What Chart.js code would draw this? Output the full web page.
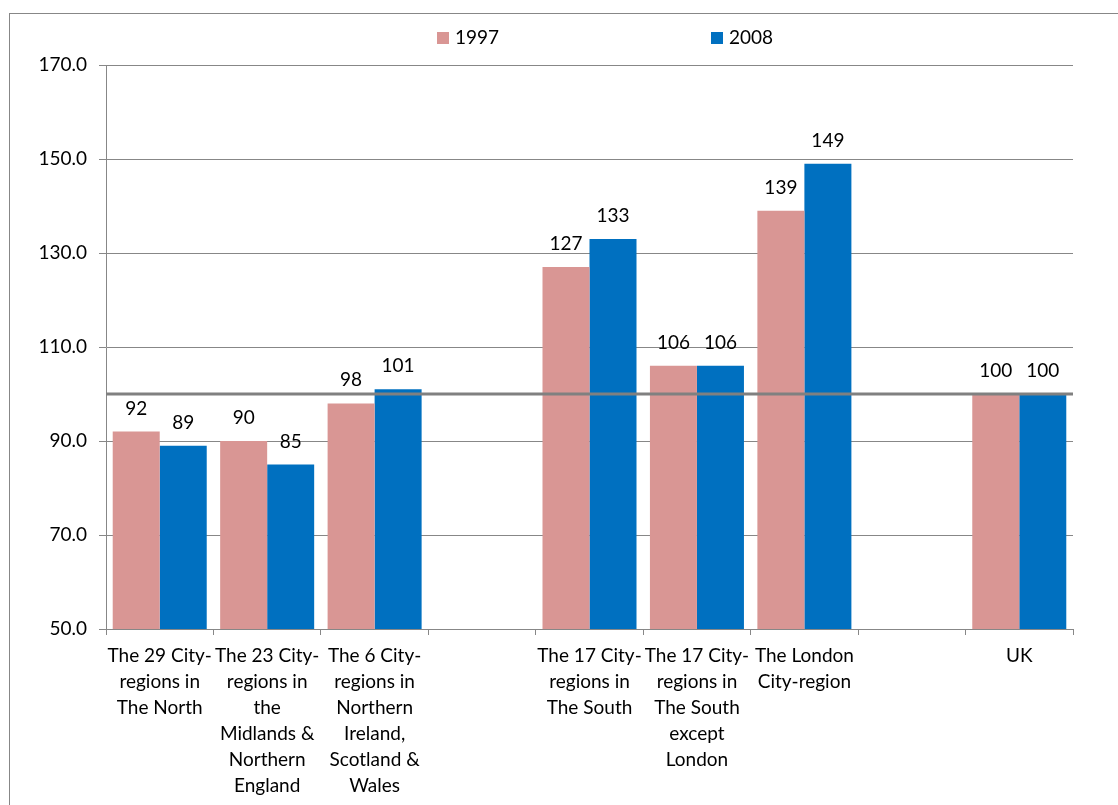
<!DOCTYPE html>
<html>
<head>
<meta charset="utf-8">
<title>City-region GVA per head, UK = 100</title>
<script src="https://cdn.jsdelivr.net/npm/chart.js@4.4.1/dist/chart.umd.min.js"></script>
<style>
  html, body { margin: 0; padding: 0; background: #fff; overflow: hidden; }
  #wrap { width: 1118px; height: 805px; }
</style>
</head>
<body>
<div id="wrap"><canvas id="gvaChart" width="1118" height="805"></canvas></div>
<script>
// categories (multi-line labels), empty slots keep the gaps between groups
const categories = [
  ['The 29 City-', 'regions in', 'The North'],
  ['The 23 City-', 'regions in', 'the', 'Midlands &', 'Northern', 'England'],
  ['The 6 City-', 'regions in', 'Northern', 'Ireland,', 'Scotland &', 'Wales'],
  '',
  ['The 17 City-', 'regions in', 'The South'],
  ['The 17 City-', 'regions in', 'The South', 'except', 'London'],
  ['The London', 'City-region'],
  '',
  'UK'
];
const values1997 = [92, 90, 98, null, 127, 106, 139, null, 100];
const values2008 = [89, 85, 101, null, 133, 106, 149, null, 100];
const yTicks = [50, 70, 90, 110, 130, 150, 170];
const ukLevel = 100;

const PINK = '#d99694';
const BLUE = '#0070c0';
const GRID = '#878787';
const FONT = 'Lato';
const FONT_SIZE = 19;

Chart.defaults.font.family = FONT;
Chart.defaults.font.size = FONT_SIZE;
Chart.defaults.color = '#000';

// outer frame of the chart object
const frame = {
  id: 'frame',
  beforeDraw(chart) {
    const ctx = chart.ctx;
    ctx.save();
    ctx.fillStyle = '#fff';
    ctx.fillRect(0, 0, chart.width, chart.height);
    ctx.strokeStyle = GRID;
    ctx.lineWidth = 1;
    ctx.strokeRect(9.5, 13.5, chart.width + 50, chart.height + 50);
    ctx.restore();
  }
};

// horizontal UK = 100 line across the plot
const ukLine = {
  id: 'ukLine',
  afterDatasetsDraw(chart) {
    const { ctx, chartArea } = chart;
    const y = chart.scales.y.getPixelForValue(ukLevel);
    ctx.save();
    ctx.strokeStyle = '#808080';
    ctx.lineWidth = 3;
    ctx.beginPath();
    ctx.moveTo(chartArea.left, y);
    ctx.lineTo(chartArea.right, y);
    ctx.stroke();
    ctx.restore();
  }
};

// value labels above each bar
const barLabels = {
  id: 'barLabels',
  afterDatasetsDraw(chart) {
    const ctx = chart.ctx;
    ctx.save();
    ctx.font = FONT_SIZE + 'px ' + FONT;
    ctx.fillStyle = '#000';
    ctx.textAlign = 'center';
    ctx.textBaseline = 'alphabetic';
    chart.data.datasets.forEach((ds, i) => {
      chart.getDatasetMeta(i).data.forEach((bar, j) => {
        const v = ds.data[j];
        if (v == null) return;
        ctx.fillText(String(Math.round(v)), bar.x, bar.y - 17);
      });
    });
    ctx.restore();
  }
};

// widely spaced legend along the top
const spreadLegend = {
  id: 'spreadLegend',
  afterDraw(chart, args, opts) {
    const ctx = chart.ctx;
    ctx.save();
    ctx.font = FONT_SIZE + 'px ' + FONT;
    ctx.textBaseline = 'middle';
    ctx.textAlign = 'left';
    chart.data.datasets.forEach((ds, i) => {
      const x = opts.left + i * opts.step;
      ctx.fillStyle = ds.backgroundColor;
      ctx.fillRect(x, opts.top, 12, 12);
      ctx.fillStyle = '#000';
      ctx.fillText(ds.label, x + 18, opts.top + 6);
    });
    ctx.restore();
  }
};

new Chart(document.getElementById('gvaChart'), {
  type: 'bar',
  data: {
    labels: categories,
    datasets: [
      { label: '1997', data: values1997, backgroundColor: PINK, categoryPercentage: 0.875, barPercentage: 1 },
      { label: '2008', data: values2008, backgroundColor: BLUE, categoryPercentage: 0.875, barPercentage: 1 }
    ]
  },
  options: {
    responsive: false,
    animation: false,
    devicePixelRatio: 1,
    layout: { padding: { top: 65, right: 45, left: 0, bottom: 0 } },
    plugins: {
      legend: { display: false },
      tooltip: { enabled: false },
      spreadLegend: { left: 437, top: 32, step: 274 }
    },
    scales: {
      x: {
        grid: { offset: true, drawOnChartArea: false, drawTicks: true, tickLength: 6, color: GRID },
        border: { color: GRID },
        ticks: { maxRotation: 0, autoSkip: false, padding: 8, font: { size: FONT_SIZE, lineHeight: 26 / FONT_SIZE } },
        afterFit(scale) { scale.height = 176; }
      },
      y: {
        min: 50,
        max: 170,
        afterBuildTicks(scale) { scale.ticks = yTicks.map(v => ({ value: v })); },
        grid: { color: GRID, tickLength: 7 },
        border: { color: GRID },
        ticks: { padding: 12, callback: v => v.toFixed(1), font: { size: FONT_SIZE } },
        afterFit(scale) { scale.width = 106; }
      }
    }
  },
  plugins: [frame, ukLine, barLabels, spreadLegend]
});
</script>
</body>
</html>
